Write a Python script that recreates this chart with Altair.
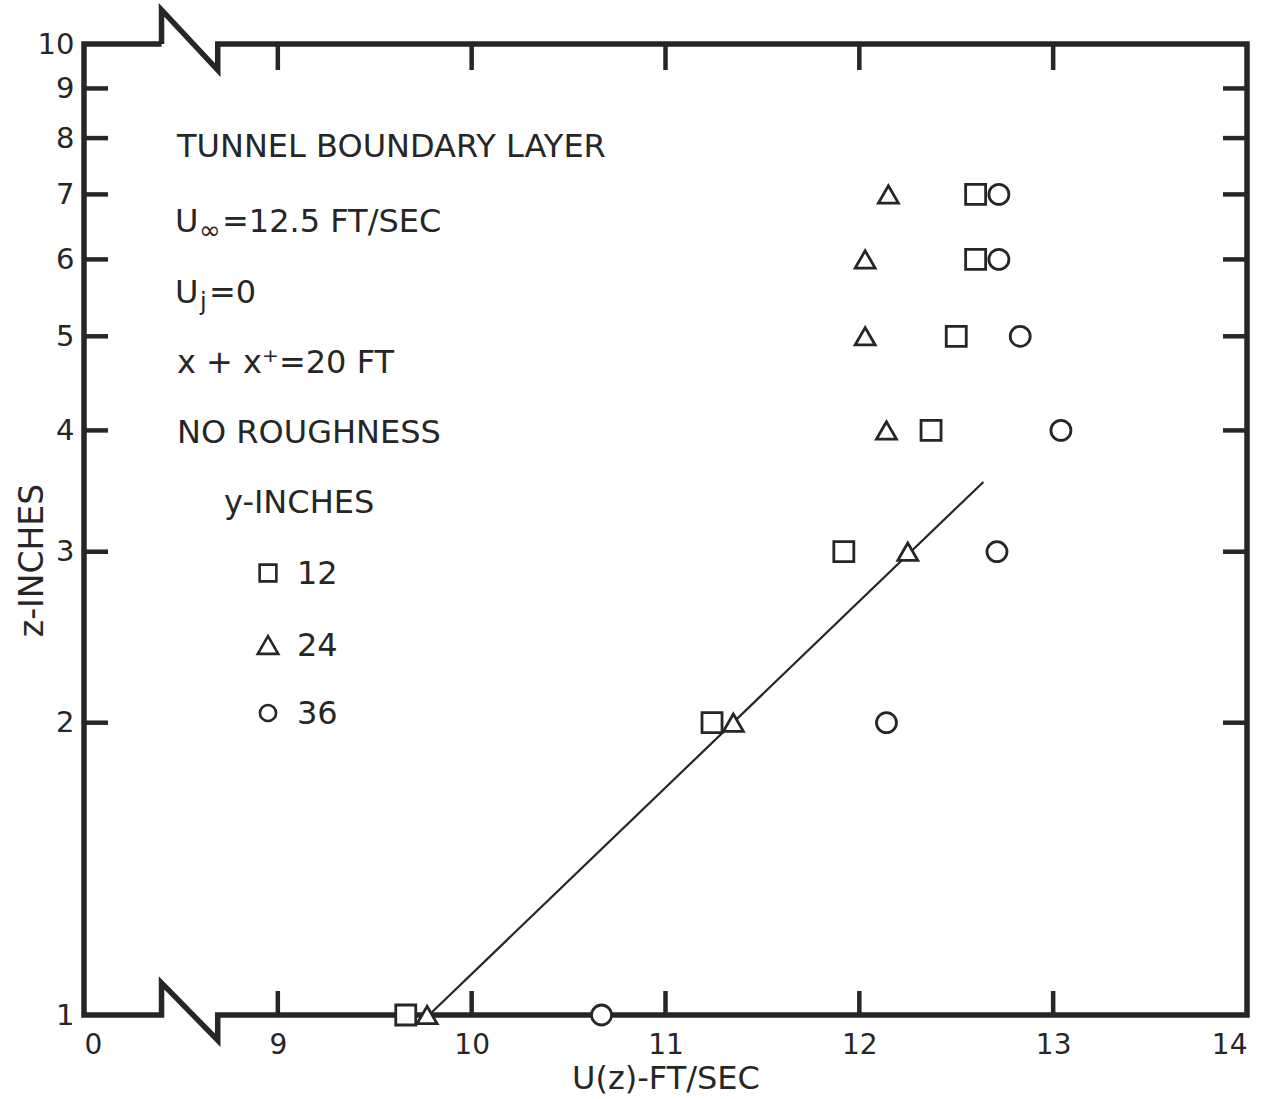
import altair as alt
import pandas as pd

# ---------------- data ----------------
z_levels = [1, 2, 3, 4, 5, 6, 7]
u_y12 = [9.66, 11.24, 11.92, 12.37, 12.50, 12.60, 12.60]   # squares
u_y24 = [9.77, 11.35, 12.25, 12.14, 12.03, 12.03, 12.15]   # triangles
u_y36 = [10.67, 12.14, 12.71, 13.04, 12.83, 12.72, 12.72]  # circles
series_labels = ["12", "24", "36"]
series_shapes = ["square", "triangle-up", "circle"]

fit_u = [9.78, 12.64]
fit_z = [1.0, 3.54]

x_tick_values = [8, 9, 10, 11, 12, 13, 14]
x_inner_ticks = [9, 10, 11, 12, 13]
y_tick_values = [1, 2, 3, 4, 5, 6, 7, 8, 9, 10]
y_inner_ticks = [2, 3, 4, 5, 6, 7, 8, 9]

# frame outline with the axis-break zigzags (data coordinates)
frame_u = [8.40, 8.0, 8.0, 8.40, 8.40, 8.69, 8.69, 14.0, 14.0, 8.69, 8.69, 8.40, 8.40]
frame_z = [10.0, 10.0, 1.0, 1.0, 1.079, 0.942, 1.0, 1.0, 10.0, 10.0, 9.40, 10.84, 10.0]

notes = ["TUNNEL BOUNDARY LAYER", "U", "\u221e", "=12.5 FT/SEC", "U", "j", "=0",
         "x + x\u207a=20 FT", "NO ROUGHNESS", "y-INCHES"]

# ---------------- build tables ----------------
pts = pd.DataFrame({
    "u": u_y12 + u_y24 + u_y36,
    "z": z_levels * 3,
    "y": [series_labels[0]] * 7 + [series_labels[1]] * 7 + [series_labels[2]] * 7,
})
fit = pd.DataFrame({"u": fit_u, "z": fit_z})
frame = pd.DataFrame({"u": frame_u, "z": frame_z, "o": list(range(len(frame_u)))})

INK = "#262626"
FONT = "DejaVu Sans"
W, H = 1163, 971
OX, OY = 84, 44  # plot origin in page pixels

xs = alt.Scale(domain=[8, 14], nice=False, zero=False)
ys = alt.Scale(type="log", domain=[1, 10], nice=False)

x_axis = alt.Axis(values=x_tick_values, format="d",
                  labelExpr="datum.value == 8 ? '0' : datum.label",
                  ticks=False, domain=False, grid=False,
                  labelFontSize=28, labelFont=FONT, labelColor=INK, labelPadding=16,
                  title="U(z)-FT/SEC", titleFontSize=32, titleFont=FONT,
                  titleFontWeight="normal", titleColor=INK,
                  titleY=63, titleBaseline="middle")
y_axis = alt.Axis(values=y_tick_values, format="d",
                  ticks=False, domain=False, grid=False,
                  labelFontSize=29, labelFont=FONT, labelColor=INK, labelPadding=10,
                  title="z-INCHES", titleFontSize=33, titleFont=FONT,
                  titleFontWeight="normal", titleColor=INK,
                  titleX=-52, titleY=516, titleAngle=-90,
                  titleAlign="center", titleBaseline="middle")

X = alt.X("u:Q", scale=xs, axis=x_axis)
Y = alt.Y("z:Q", scale=ys, axis=y_axis)

frame_layer = alt.Chart(frame).mark_line(
    color=INK, strokeWidth=5.5, strokeJoin="miter", clip=False
).encode(x=X, y=Y, order="o:Q")

def yticks(x0, x1):
    return alt.Chart(pd.DataFrame({"z": y_inner_ticks})).mark_rule(
        color=INK, strokeWidth=4.5).encode(y=Y, x=alt.value(x0), x2=alt.value(x1))

def xticks(y0, y1):
    return alt.Chart(pd.DataFrame({"u": x_inner_ticks})).mark_rule(
        color=INK, strokeWidth=4.5).encode(x=X, y=alt.value(y0), y2=alt.value(y1))

fit_layer = alt.Chart(fit).mark_line(color=INK, strokeWidth=2.2).encode(x=X, y=Y)

point_layer = alt.Chart(pts).mark_point(
    filled=False, color=INK, fill="white", fillOpacity=1, strokeWidth=2.8,
    size=400, opacity=1
).encode(
    x=X, y=Y,
    shape=alt.Shape("y:N", scale=alt.Scale(domain=series_labels, range=series_shapes),
                    legend=None),
)

def note(txt, x, y, size=32):
    return alt.Chart(pd.DataFrame({"t": [txt]})).mark_text(
        align="left", baseline="middle", font=FONT, fontSize=size, color=INK
    ).encode(text="t:N", x=alt.value(x - OX), y=alt.value(y - OY))

notes_layers = [
    note(notes[0], 177, 147),
    note(notes[1], 175, 222),
    note(notes[2], 199, 231, 26),
    note(notes[3], 222, 222),
    note(notes[4], 175, 293),
    note(notes[5], 200, 303, 24),
    note(notes[6], 209, 293),
    note(notes[7], 177, 363),
    note(notes[8], 177, 433),
    note(notes[9], 224, 503),
]

# hand-drawn key, as in the reference
key_rows_y = [573, 645, 713]
key_sizes = [280, 420, 260]
key_layers = []
for lab, shp, ky, ks in zip(series_labels, series_shapes, key_rows_y, key_sizes):
    key_layers.append(
        alt.Chart(pd.DataFrame({"t": [lab]})).mark_point(
            shape=shp, size=ks, filled=False, color=INK, fill="white",
            fillOpacity=1, strokeWidth=2.6, opacity=1
        ).encode(x=alt.value(268 - OX), y=alt.value(ky - OY))
    )
    key_layers.append(note(lab, 297, ky + 1))

chart = alt.layer(
    frame_layer,
    yticks(0, 24), yticks(W - 24, W),
    xticks(0, 26), xticks(H - 24, H),
    fit_layer, point_layer, *notes_layers, *key_layers
).properties(
    width=W, height=H,
    autosize=alt.AutoSizeParams(type="none"),
    padding={"left": OX, "top": OY, "right": 1268 - OX - W, "bottom": 1099 - OY - H},
    background="white",
).configure_view(stroke=None)

chart.save("out.html", embed_options={"renderer": "svg", "actions": False})
